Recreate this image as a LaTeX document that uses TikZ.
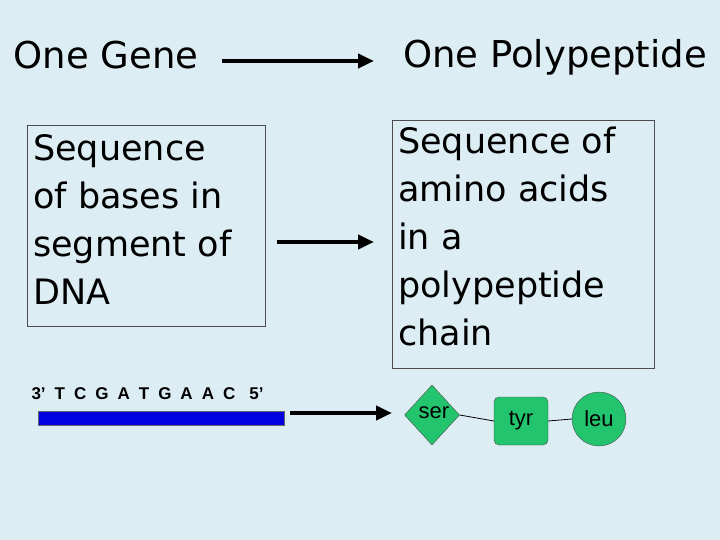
\documentclass[tikz,border=0pt]{standalone}
\usepackage{fontspec}
\setmainfont{DejaVu Sans}
\newfontfamily\arialf{Liberation Sans}
\usetikzlibrary{shapes.geometric,arrows.meta}
\definecolor{bg}{HTML}{DCEDF3}
\definecolor{gr}{HTML}{22C46E}
\definecolor{bl}{HTML}{0000E0}
\begin{document}
\begin{tikzpicture}[x=1pt,y=-1pt,
  big/.style={font=\fontsize{35}{48}\selectfont,align=left,anchor=north west,inner sep=0},
  arr/.style={line width=4pt,-{Triangle[length=16pt,width=14pt]}},
  aa/.style={font=\arialf\fontsize{22}{26}\selectfont},
  link/.style={line width=0.8pt}]
\fill[bg] (0,0) rectangle (720,540);
\useasboundingbox (0,0) rectangle (720,540);
\node[font=\fontsize{37}{42}\selectfont] (g) at (106,55) {One Gene};
\node[font=\fontsize{37}{42}\selectfont] (p) at (555,57) {One Polypeptide};
\coordinate (a1) at (222,61); \coordinate (a2) at (374,61);
\draw[arr] (a1) -- (a2);
\draw[draw=black!70,line width=1pt] (27,126) rectangle (265,326);
\node[big] (l) at (33,134) {Sequence\\of bases in\\segment of\\DNA};
\draw[draw=black!70,line width=1pt] (392,121) rectangle (654,368);
\node[big] (r) at (398,127) {Sequence of\\amino acids\\in a\\polypeptide\\chain};
\coordinate (b1) at (277,242); \coordinate (b2) at (374,242);
\draw[arr] (b1) -- (b2);
\node[font=\arialf\bfseries\fontsize{17}{20}\selectfont,anchor=west] (seq) at (28,394) {3’\hspace{9pt}T\hspace{9pt}C\hspace{9pt}G\hspace{9pt}A\hspace{9pt}T\hspace{9pt}G\hspace{9pt}A\hspace{9pt}A\hspace{9pt}C\hspace{14pt}5’};
\fill[bl,draw=black!60] (38,411) rectangle (284,425);
\coordinate (c1) at (290,413); \coordinate (c2) at (392,413);
\draw[arr] (c1) -- (c2);
\node[diamond,fill=gr,draw=black!70,minimum width=55pt,minimum height=60pt,inner sep=0] (ser) at (432,415) {};
\node[aa] at (434,413) {ser};
\node[draw=black!70,fill=gr,rounded corners=5pt,minimum width=54pt,minimum height=48pt,aa] (tyr) at (521,421) {tyr};
\node[circle,draw=black!70,fill=gr,minimum size=54pt,inner sep=0,aa] (leu) at (599,419) {leu};
\draw[link] (ser.east) -- (tyr.west);
\draw[link] (tyr.east) -- (leu.west);
\end{tikzpicture}
\end{document}
